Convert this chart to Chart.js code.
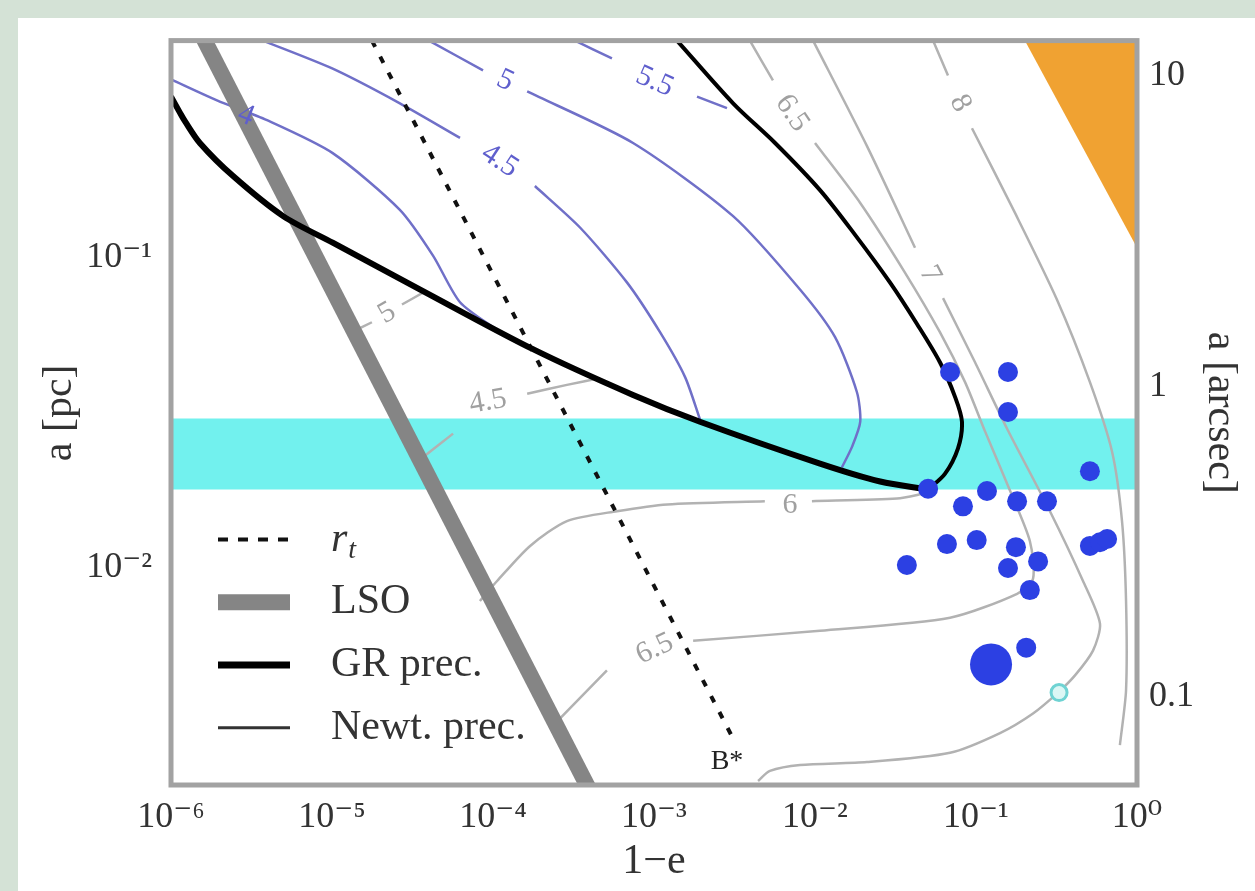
<!DOCTYPE html>
<html>
<head>
<meta charset="utf-8">
<script src="https://cdn.jsdelivr.net/npm/chart.js@4.4.1/dist/chart.umd.min.js"></script>
<style>
  html, body { margin: 0; padding: 0; }
  body { width: 1255px; height: 891px; background: #d4e2d6; position: relative; overflow: hidden; }
  #panel { position: absolute; left: 18px; top: 18px; width: 1237px; height: 873px; background: #fff; }
  #chart { position: absolute; left: 0; top: 0; }
</style>
</head>
<body>
<div id="panel"></div>
<canvas id="chart" width="1255" height="891"></canvas>
<script>
//Axis ranges
const xRange = [1e-6, 1];
const aRange = [0.002, 0.5];
const pcToArcsec = 26;

//Ticks
const xTicks = [1e-6, 1e-5, 1e-4, 1e-3, 1e-2, 1e-1, 1];
const xTickLabels = ['10⁻⁶', '10⁻⁵', '10⁻⁴', '10⁻³', '10⁻²', '10⁻¹', '10⁰'];
const aTicks = [0.1, 0.01];
const aTickLabels = ['10⁻¹', '10⁻²'];
const arcTicks = [10, 1, 0.1];
const arcTickLabels = ['10', '1', '0.1'];

//Lines, points are [1-e, a(pc)], null = gap for a contour label
const rtLine = [[1.77e-5, 0.5], [3.18e-3, 0.00275]];
const lsoLine = [[1.35e-6, 0.6], [4.5e-4, 0.0017]];
const grLow = [[1e-6, 0.330], [1.14e-6, 0.292], [1.22e-6, 0.275], [1.51e-6, 0.234], [2.43e-6, 0.183], [4.97e-6, 0.136],
  [1.01e-5, 0.1117], [3.53e-5, 0.0789], [1.77e-4, 0.0507], [7.41e-4, 0.0361], [1.93e-3, 0.0296],
  [0.01074, 0.0217], [0.0254, 0.0190], [0.0504, 0.0179]];
const grHigh = [[0.0504, 0.0179], [0.0641, 0.0201], [0.0773, 0.0243], [0.0818, 0.0296], [0.0741, 0.0356],
  [0.0597, 0.0460], [0.0431, 0.0610], [0.0292, 0.0832], [0.0177, 0.1186], [0.01074, 0.165],
  [5.65e-3, 0.234], [3.10e-3, 0.314], [1.39e-3, 0.5]];

//Blue contours
const blue4 = [[1e-6, 0.375], [1.93e-6, 0.321], [3.95e-6, 0.277], [1.01e-5, 0.217], [2.64e-5, 0.1425],
  [4.24e-5, 0.1015], [6.24e-5, 0.0718], [1.06e-4, 0.0584]];
const blue45 = [[3.72e-6, 0.5], [1.01e-5, 0.406], [2.64e-5, 0.314], [6.24e-5, 0.243], null,
  [1.82e-4, 0.170], [3.47e-4, 0.125], [6.79e-4, 0.0832], [1.09e-3, 0.0575], [1.56e-3, 0.0412], [1.93e-3, 0.0301]];
const blue5 = [[4.0e-5, 0.5], [8.67e-5, 0.401], null, [1.63e-4, 0.343], [7.41e-4, 0.234], [3.10e-3, 0.136],
  [8.07e-3, 0.0789], [0.0133, 0.0555], [0.0182, 0.0369], [0.0191, 0.0296], [0.0170, 0.0246], [0.0147, 0.0211]];
const blue55 = [[3.23e-4, 0.5], [5.48e-4, 0.438], null, [1.85e-3, 0.330], [2.84e-3, 0.303]];

//Gray contours
const gray5 = [[1.33e-5, 0.0575], [1.77e-5, 0.0619], null, [2.72e-5, 0.0706], [3.79e-5, 0.0778]];
const gray45 = [[3.28e-5, 0.0217], [5.65e-5, 0.0271], null, [1.63e-4, 0.0364], [2.88e-4, 0.0389], [4.62e-4, 0.0409]];
const gray6 = [[8.29e-5, 0.00783], [1.06e-4, 0.00908], [1.70e-4, 0.01178], [2.88e-4, 0.01416], [5.89e-4, 0.01524],
  [1.21e-3, 0.01603], [4.88e-3, 0.01641], null, [9.57e-3, 0.01641], [0.0323, 0.01675], [0.0482, 0.0174]];
const gray65 = [[2.61e-4, 0.00328], [5.10e-4, 0.00468], null, [1.75e-3, 0.00583], [0.01074, 0.00628], [0.069, 0.00692],
  [0.180, 0.00826], [0.226, 0.00923], [0.216, 0.01222], [0.163, 0.0177], [0.114, 0.0275], [0.0855, 0.0397],
  [0.0597, 0.0575], [0.0362, 0.0895], [0.0191, 0.150], [0.0100, 0.234], null, [5.48e-3, 0.372], [3.94e-3, 0.5]];
const gray7 = [[9.73e-3, 0.5], [0.0210, 0.229], [0.0418, 0.1076], null, [0.0624, 0.0740], [0.0986, 0.0460],
  [0.156, 0.0281], [0.288, 0.01524], [0.462, 0.00908], [0.589, 0.00662], [0.533, 0.00542], [0.412, 0.00451],
  [0.323, 0.00397], [0.226, 0.00340], [0.141, 0.00294], [0.069, 0.00254], [0.0210, 0.00237], [8.07e-3, 0.00232],
  [5.25e-3, 0.00222], [4.43e-3, 0.00206]];
const gray8 = [[0.0541, 0.5], [0.0670, 0.386], null, [0.0944, 0.261], [0.175, 0.139], [0.318, 0.0733], [0.51, 0.0397],
  [0.700, 0.0237], [0.807, 0.01416], [0.855, 0.00783], [0.855, 0.00404], [0.783, 0.00269]];

//Shaded regions
const band = [0.0179, 0.0303];
const orangeEdge = [[0.201, 0.5], [1, 0.1076]];

//Stars
const stars = [[0.069, 0.0428], [0.158, 0.0428], [0.158, 0.0318], [0.51, 0.0205], [0.0504, 0.0180],
  [0.117, 0.0177], [0.083, 0.0158], [0.180, 0.0164], [0.276, 0.0164], [0.066, 0.01194], [0.101, 0.0123],
  [0.177, 0.01167], [0.158, 0.0100], [0.243, 0.0105], [0.0372, 0.01023], [0.216, 0.00849], [0.51, 0.01178],
  [0.589, 0.01211], [0.652, 0.0124], [0.205, 0.00554]];
const bigStar = [[0.124, 0.00489]];
const openStar = [[0.328, 0.00397]];

//Contour labels: text, 1-e, a, rotation
const blueLabels = [['4', 2.92e-6, 0.287, 22], ['4.5', 1.10e-4, 0.205, 33], ['5', 1.19e-4, 0.372, 25], ['5.5', 1.01e-3, 0.369, 24]];
const grayLabels = [['5', 2.20e-5, 0.0662, -30], ['4.5', 9.31e-5, 0.0343, -10], ['6', 7.00e-3, 0.0159, 0],
  ['6.5', 1.01e-3, 0.00549, -25], ['6.5', 7.19e-3, 0.292, 56], ['7', 0.0518, 0.0882, 62], ['8', 0.0796, 0.314, 63]];
const markLabels = [['B*', 2.84e-3, 0.00237, 0]];

const legendNames = ['r_t', 'LSO', 'GR prec.', 'Newt. prec.'];

const serif = "'Liberation Serif', 'DejaVu Serif', serif";
const blueLine = 'rgb(112,112,200)';
const grayLine = 'rgb(178,178,178)';

function toPts(list){
  return list.map(p => ({x: p[0], y: p[1]}));
}

//split a contour on null into several pieces
function pieces(list){
  const out = [[]];
  list.forEach(p => {
    if (p === null) out.push([]);
    else out[out.length - 1].push({x: p[0], y: p[1]});
  });
  return out;
}

function lineSet(data, color, width, order, extra){
  return Object.assign({
    data: data,
    borderColor: color,
    borderWidth: width,
    pointRadius: 0,
    tension: 0.25,
    fill: false,
    clip: 0,
    order: order
  }, extra || {});
}

let datasets = [];

//Stars on top
datasets.push({ data: toPts(stars), showLine: false, pointRadius: 10, pointBackgroundColor: '#2c40e3', pointBorderWidth: 0, order: 0 });
datasets.push({ data: toPts(bigStar), showLine: false, pointRadius: 21, pointBackgroundColor: '#2c40e3', pointBorderWidth: 0, order: 0 });
datasets.push({ data: toPts(openStar), showLine: false, pointRadius: 8, pointBackgroundColor: '#dcf7f5', pointBorderColor: '#6fd3d3', pointBorderWidth: 3, order: 0 });

//GR precession
datasets.push(lineSet(toPts(grLow), '#000', 6, 1, { label: 'GR prec.', legendWidth: 7, tension: 0.3 }));
datasets.push(lineSet(toPts(grHigh), '#000', 4, 1, { tension: 0.3 }));
datasets.push(lineSet([], '#333', 3, 1, { label: 'Newt. prec.' }));

//r_t and LSO
datasets.push(lineSet(toPts(rtLine), '#111', 4, 2, { label: 'r_t', borderDash: [7, 11], tension: 0 }));
datasets.push(lineSet(toPts(lsoLine), '#858585', 16, 3, { label: 'LSO', legendWidth: 16, tension: 0 }));

//contours
[blue4, blue45, blue5, blue55].forEach(c => pieces(c).forEach(p => datasets.push(lineSet(p, blueLine, 2.5, 4))));
[gray5, gray45, gray6, gray65, gray7, gray8].forEach(c => pieces(c).forEach(p => datasets.push(lineSet(p, grayLine, 2.5, 5))));

//orange triangle and cyan band
datasets.push(lineSet(toPts(orangeEdge), '#f0a232', 0, 6, { fill: 'end', backgroundColor: '#f0a232', tension: 0 }));
datasets.push(lineSet(toPts([[xRange[0], band[1]], [xRange[1], band[1]]]), '#72f1ee', 0, 7,
  { fill: { target: { value: band[0] } }, backgroundColor: '#72f1ee', tension: 0 }));

//Contour labels and annotations
const labelPlugin = {
  id: 'contourLabels',
  afterDatasetsDraw(chart){
    const ctx = chart.ctx;
    const xs = chart.scales.x, ys = chart.scales.y;
    const groups = [[blueLabels, 'rgb(95,95,205)', 30], [grayLabels, 'rgb(160,160,160)', 30], [markLabels, '#222', 28]];
    groups.forEach(g => {
      g[0].forEach(l => {
        ctx.save();
        ctx.translate(xs.getPixelForValue(l[1]), ys.getPixelForValue(l[2]));
        ctx.rotate(l[3] * Math.PI / 180);
        ctx.fillStyle = g[1];
        ctx.font = g[2] + 'px ' + serif;
        ctx.textAlign = 'center';
        ctx.textBaseline = 'middle';
        ctx.fillText(l[0], 0, 0);
        ctx.restore();
      });
    });
  }
};

//Legend inside plot area + frame
const legendPlugin = {
  id: 'insideLegend',
  afterDatasetsDraw(chart){
    const ctx = chart.ctx, area = chart.chartArea;
    const x0 = area.left + 47, x1 = area.left + 119, tx = area.left + 160;
    let yy = area.top + 499;
    legendNames.forEach(name => {
      const ds = chart.data.datasets.find(d => d.label === name);
      ctx.save();
      ctx.strokeStyle = ds.borderColor;
      ctx.lineWidth = ds.legendWidth || ds.borderWidth;
      ctx.setLineDash(ds.borderDash ? [10, 10] : []);
      ctx.beginPath();
      ctx.moveTo(x0, yy);
      ctx.lineTo(x1, yy);
      ctx.stroke();
      ctx.setLineDash([]);
      ctx.fillStyle = '#333';
      ctx.textBaseline = 'middle';
      if (name === 'r_t') {
        ctx.font = 'italic 42px ' + serif;
        ctx.fillText('r', tx, yy);
        const w = ctx.measureText('r').width;
        ctx.font = 'italic 28px ' + serif;
        ctx.fillText('t', tx + w + 1, yy + 11);
      } else {
        ctx.font = '42px ' + serif;
        ctx.fillText(name, tx, yy);
      }
      ctx.restore();
      yy += 62.7;
    });

    ctx.save();
    ctx.strokeStyle = '#a2a2a2';
    ctx.lineWidth = 5;
    ctx.strokeRect(area.left, area.top, area.right - area.left, area.bottom - area.top);
    ctx.restore();
  }
};

function fixTicks(values){
  return function(scale){ scale.ticks = values.map(v => ({ value: v })); };
}

const tickFont = { family: serif, size: 36 };
const titleFont = { family: serif, size: 42 };

new Chart(document.querySelector('#chart'), {
  type: 'line',
  data: { datasets: datasets },
  options: {
    responsive: false,
    animation: false,
    devicePixelRatio: 1,
    layout: { padding: { top: 36, left: 0, right: 0, bottom: 0 }, autoPadding: false },
    plugins: { legend: { display: false }, tooltip: { enabled: false } },
    scales: {
      x: {
        type: 'logarithmic', position: 'bottom', min: xRange[0], max: xRange[1],
        grid: { display: false, drawTicks: false }, border: { display: false },
        afterBuildTicks: fixTicks(xTicks),
        afterFit: s => { s.height = 106; },
        ticks: { font: tickFont, color: '#333', padding: 11, autoSkip: false, maxRotation: 0,
          callback: (v, i) => xTickLabels[i] },
        title: { display: true, text: '1−e', font: titleFont, color: '#333', padding: { top: 0, bottom: 4 } }
      },
      y: {
        type: 'logarithmic', position: 'left', min: aRange[0], max: aRange[1],
        grid: { display: false, drawTicks: false }, border: { display: false },
        afterBuildTicks: fixTicks(aTicks),
        afterFit: s => { s.width = 171; },
        ticks: { font: tickFont, color: '#333', padding: 19, autoSkip: false,
          callback: (v, i) => aTickLabels[i] },
        title: { display: true, text: 'a [pc]', font: titleFont, color: '#333', padding: { top: 35, bottom: 0 } }
      },
      yR: {
        type: 'logarithmic', position: 'right', min: aRange[0] * pcToArcsec, max: aRange[1] * pcToArcsec,
        grid: { display: false, drawTicks: false }, border: { display: false },
        afterBuildTicks: fixTicks(arcTicks),
        afterFit: s => { s.width = 118; },
        ticks: { font: tickFont, color: '#333', padding: 12, autoSkip: false,
          callback: (v, i) => arcTickLabels[i] },
        title: { display: true, text: 'a [arcsec]', font: titleFont, color: '#333', padding: { top: 10, bottom: 0 } }
      }
    }
  },
  plugins: [labelPlugin, legendPlugin]
});
</script>
</body>
</html>
